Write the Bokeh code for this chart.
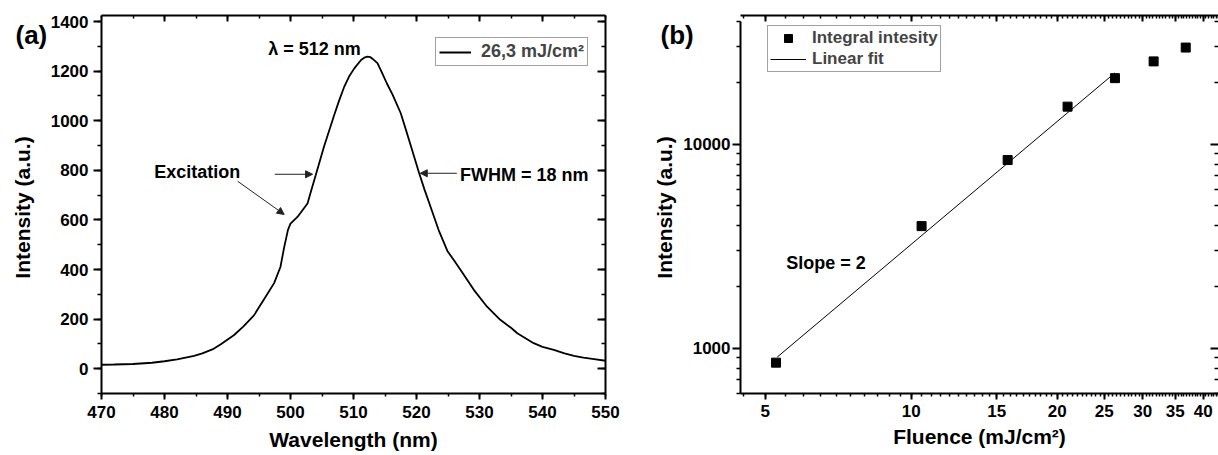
from bokeh.plotting import figure
from bokeh.layouts import row
from bokeh.models import (Range1d, LinearAxis, LogAxis, FixedTicker, SingleIntervalTicker,
                          Legend, LegendItem, Label, Arrow, NormalHead, PrintfTickFormatter,
                          CustomJSTickFormatter, Title)
from bokeh.embed import file_html
from bokeh.resources import INLINE

# ---------------- data ----------------
wavelength = [470, 472, 475, 478, 480, 482, 484.7, 486, 487.8, 489, 491, 492.5, 494.2,
              496.3, 497.4, 498.4, 499, 499.6, 500, 501.1, 502.7, 503.3, 504.0, 505.3, 506.9,
              507.7, 508.5, 509.3, 510.1, 511.2, 511.7, 512.2, 512.7, 513, 513.8, 514.5, 515.3,
              516.2, 517.5, 518.3, 519.0, 520.4, 521.3, 522.2, 523.5, 524.9, 526.0, 527.0,
              529.1, 531.2, 533.3, 535.0, 536.0, 538.6, 540.0, 541.8, 543.5, 545.0, 546.5,
              548.2, 550]
intensity = [16, 17, 19, 24, 30, 38, 52, 62, 80, 100, 135, 170, 215,
             300, 345, 410, 490, 560, 585, 612, 666, 720, 780, 894, 1020,
             1080, 1135, 1178, 1210, 1245, 1254, 1258, 1256, 1250, 1232, 1195, 1150,
             1105, 1030, 965, 907, 790, 720, 655, 560, 475, 435, 398,
             318, 250, 197, 165, 143, 103, 88, 76, 62, 52, 45,
             39, 32]

fluence = [5.26, 10.5, 15.8, 21.0, 26.3, 31.6, 36.8]
integral = [850, 3970, 8370, 15300, 21100, 25500, 29800]
fit_fluence = [5.29, 26.3]
fit_intensity = [905, 22400]

x_ticks_b = [5, 10, 15, 20, 25, 30, 35, 40]
x_minor_b = [4.5 + 0.5 * i for i in range(78)]
y_ticks_b = [1000, 10000]
y_minor_b = [600, 700, 800, 900, 2000, 3000, 4000, 5000, 6000, 7000, 8000, 9000,
             20000, 30000, 40000]

FONT = "Liberation Sans"
TICK_FS = "17px"
TITLE_FS = "21px"
ANN_FS = "18px"

blank = CustomJSTickFormatter(code="return ''")


def style_axis(ax, labels=True, inward=False, major_len=7, minor_len=4):
    ax.axis_line_width = 2
    ax.axis_line_color = "black"
    ax.major_tick_line_width = 2
    ax.minor_tick_line_width = 1.5
    ax.major_tick_line_color = "black"
    ax.minor_tick_line_color = "black"
    if inward:
        ax.major_tick_in, ax.major_tick_out = major_len, 0
        ax.minor_tick_in, ax.minor_tick_out = minor_len, 0
    else:
        ax.major_tick_in, ax.major_tick_out = 0, major_len
        ax.minor_tick_in, ax.minor_tick_out = 0, minor_len
    ax.major_label_text_font = FONT
    ax.major_label_text_font_style = "bold"
    ax.major_label_text_font_size = TICK_FS
    ax.major_label_text_color = "black"
    ax.axis_label_text_font = FONT
    ax.axis_label_text_font_style = "bold"
    ax.axis_label_text_font_size = TITLE_FS
    ax.axis_label_text_color = "black"
    if not labels:
        ax.formatter = blank
        ax.major_label_text_color = None
        ax.major_label_standoff = 0


def label(p, x, y, text, size=ANN_FS, align="left", baseline="middle"):
    p.add_layout(Label(x=x, y=y, text=text,
                       text_font=FONT, text_font_style="bold", text_font_size=size,
                       text_align=align, text_baseline=baseline, text_color="black"))


def panel_tag(text, offset):
    # two-line title whose visible second line hangs just below the frame top
    return Title(text="\n" + text, align="left", offset=offset, vertical_align="bottom",
                 standoff=-56, text_font=FONT, text_font_style="bold",
                 text_font_size="26px", text_color="black")


# ---------------- panel (a) ----------------
p1 = figure(width=650, height=455, x_range=Range1d(470, 550), y_range=Range1d(-100, 1400),
            output_backend="svg", toolbar_location=None,
            min_border_left=101, min_border_right=45, min_border_top=21, min_border_bottom=62)
p1.outline_line_color = None
p1.xgrid.visible = False
p1.ygrid.visible = False

p1.xaxis.ticker = SingleIntervalTicker(interval=10, num_minor_ticks=2)
p1.yaxis.ticker = SingleIntervalTicker(interval=200, num_minor_ticks=2)
p1.xaxis.axis_label = "Wavelength (nm)"
p1.yaxis.axis_label = "Intensity (a.u.)"
style_axis(p1.xaxis[0], major_len=6, minor_len=3)
style_axis(p1.yaxis[0], major_len=8, minor_len=4)
p1.xaxis.major_label_standoff = 6
p1.xaxis.axis_label_standoff = 7
p1.yaxis.major_label_standoff = 5
p1.yaxis.axis_label_standoff = 14

p1.add_layout(panel_tag("(a)", -86), "above")
top1 = LinearAxis(ticker=SingleIntervalTicker(interval=10, num_minor_ticks=2))
style_axis(top1, labels=False, inward=True, major_len=6, minor_len=3)
p1.add_layout(top1, "above")
right1 = LinearAxis(ticker=SingleIntervalTicker(interval=200, num_minor_ticks=2))
style_axis(right1, labels=False, inward=True, major_len=8, minor_len=4)
p1.add_layout(right1, "right")

spec = p1.line(wavelength, intensity, line_width=1.8, color="black")

leg1 = Legend(items=[LegendItem(label="26,3 mJ/cm²", renderers=[spec])],
              location=(334, 327), margin=0, padding=3, spacing=0,
              glyph_width=32, glyph_height=20, label_height=20, label_standoff=10,
              label_text_font=FONT, label_text_font_style="bold", label_text_font_size=ANN_FS,
              border_line_color="#444", border_line_width=1, background_fill_alpha=1)
p1.add_layout(leg1)

label(p1, 503.8, 1290, "λ = 512 nm", align="center")
label(p1, 485.2, 792, "Excitation", align="center")
label(p1, 526.9, 780, "FWHM = 18 nm", align="left")

head = dict(size=7, fill_color="#222", line_color="#222")
p1.add_layout(Arrow(end=NormalHead(**head), x_start=491.6, y_start=756, x_end=499.0, y_end=622,
                    line_color="#222", line_width=1))
p1.add_layout(Arrow(end=NormalHead(**head), x_start=497.5, y_start=784, x_end=503.5, y_end=784,
                    line_color="#222", line_width=1))
p1.add_layout(Arrow(end=NormalHead(**head), x_start=526.4, y_start=788, x_end=520.6, y_end=788,
                    line_color="#222", line_width=1))

# ---------------- panel (b) ----------------
p2 = figure(width=568, height=455, x_axis_type="log", y_axis_type="log",
            x_range=Range1d(4.444, 43.0), y_range=Range1d(600, 40000),
            output_backend="svg", toolbar_location=None,
            min_border_left=87, min_border_right=0, min_border_top=20, min_border_bottom=58)
p2.outline_line_color = None
p2.xgrid.visible = False
p2.ygrid.visible = False

p2.xaxis.ticker = FixedTicker(ticks=x_ticks_b, minor_ticks=x_minor_b)
p2.yaxis.ticker = FixedTicker(ticks=y_ticks_b, minor_ticks=y_minor_b)
p2.xaxis.formatter = PrintfTickFormatter(format="%d")
p2.yaxis.formatter = PrintfTickFormatter(format="%d")
p2.xaxis.axis_label = "Fluence (mJ/cm²)"
p2.yaxis.axis_label = "Intensity (a.u.)"
style_axis(p2.xaxis[0], major_len=6, minor_len=3)
style_axis(p2.yaxis[0], major_len=8, minor_len=4)
p2.xaxis.major_label_standoff = 5
p2.xaxis.axis_label_standoff = 5
p2.yaxis.major_label_standoff = 2
p2.yaxis.axis_label_standoff = 4

p2.add_layout(panel_tag("(b)", -80), "above")
top2 = LogAxis(ticker=FixedTicker(ticks=x_ticks_b, minor_ticks=x_minor_b))
style_axis(top2, labels=False, inward=True, major_len=6, minor_len=3)
p2.add_layout(top2, "above")
right2 = LogAxis(ticker=FixedTicker(ticks=y_ticks_b, minor_ticks=y_minor_b))
style_axis(right2, labels=False, inward=True, major_len=8, minor_len=4)
right2.axis_line_color = None
p2.add_layout(right2, "right")

pts = p2.scatter(fluence, integral, marker="square", size=9, color="black")
fit = p2.line(fit_fluence, fit_intensity, line_width=1, color="black")

leg2 = Legend(items=[LegendItem(label="Integral intesity", renderers=[pts]),
                     LegendItem(label="Linear fit", renderers=[fit])],
              location=(27, 321), margin=0, padding=2, spacing=1,
              glyph_width=36, glyph_height=20, label_height=20, label_standoff=6,
              label_text_font=FONT, label_text_font_style="bold", label_text_font_size="17px",
              border_line_color="#444", border_line_width=1, background_fill_alpha=1)
p2.add_layout(leg2)

label(p2, 5.52, 2630, "Slope = 2", align="left")

layout = row(p1, p2, spacing=0)
open("out.html", "w").write(file_html(layout, INLINE))
